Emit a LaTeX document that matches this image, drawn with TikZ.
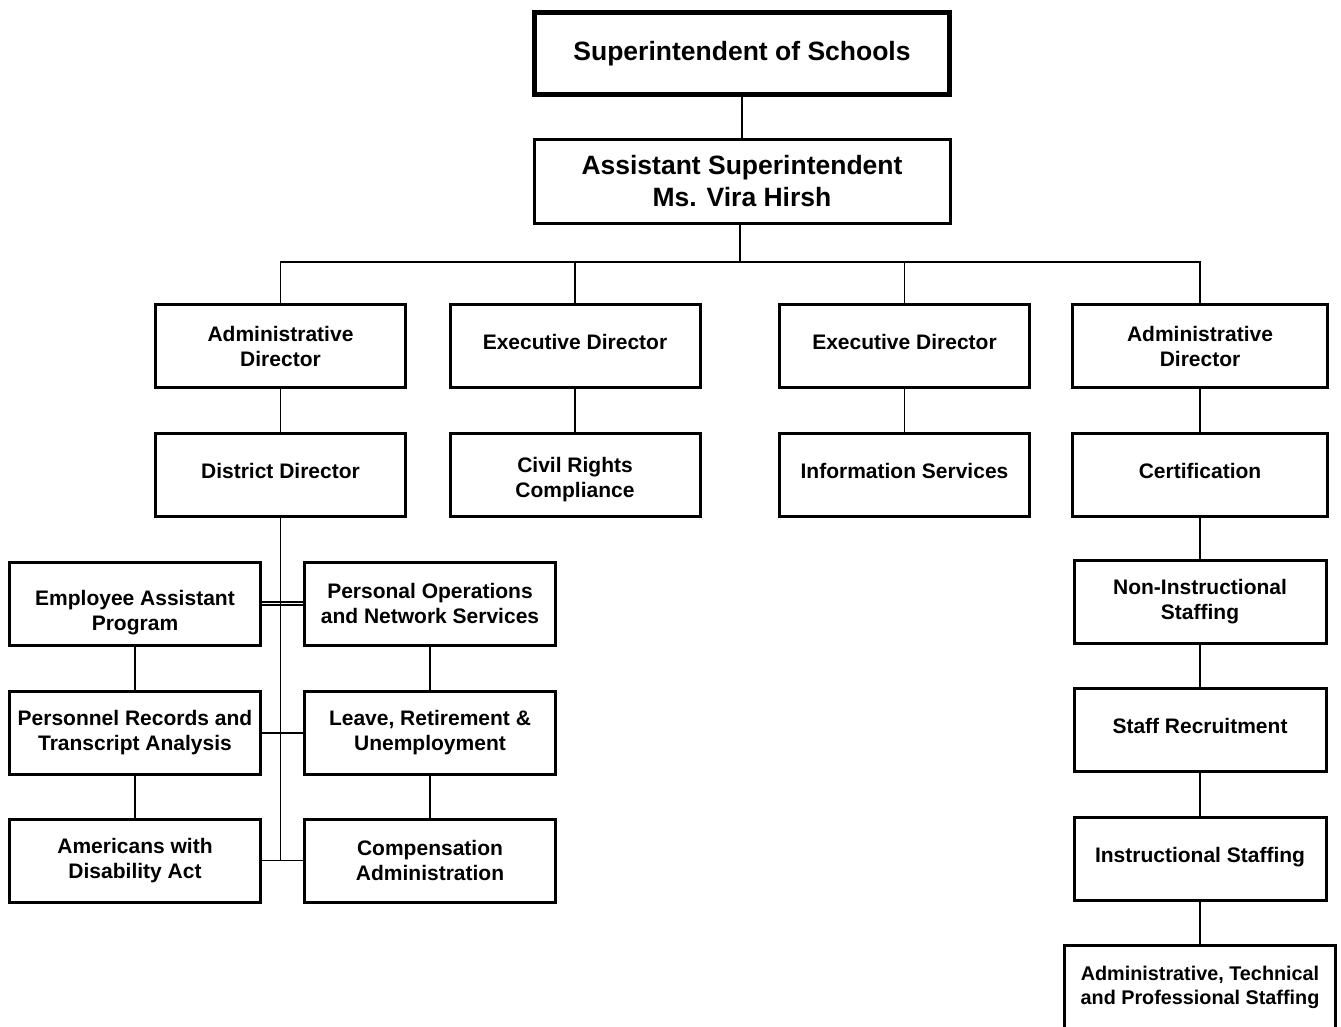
\documentclass[tikz,border=0pt]{standalone}
\usepackage{fontspec}
\setmainfont{Liberation Sans}
\newcommand{\lowstrut}{\rule[-8pt]{0pt}{8pt}}
\begin{document}
\begin{tikzpicture}[x=1pt,y=-1pt,
  box/.style={draw, line width=3pt, rectangle, align=center,
    font=\bfseries\fontsize{21}{25}\selectfont,
    minimum width=250pt, minimum height=83pt, inner sep=0pt},
  bigbox/.style={box, line width=5.5pt, font=\bfseries\fontsize{26.5}{32}\selectfont,
    minimum width=415pt, minimum height=82pt},
  conn/.style={line width=1.5pt}]
\useasboundingbox (0,0) rectangle (1341,1027);

% top levels
\node[bigbox] (super) at (742,53.5) {Superintendent of Schools};
\node[box, font=\bfseries\fontsize{26.5}{32}\selectfont, minimum width=416pt, minimum height=84pt] (asst) at (742,181.5) {Assistant Superintendent\\Ms. Vira Hirsh};

% level 2
\node[box] (ad1) at (280.5,346) {Administrative\\Director};
\node[box] (ed1) at (575,346) {Executive Director\lowstrut};
\node[box] (ed2) at (904.5,346) {Executive Director\lowstrut};
\node[box, minimum width=255pt] (ad2) at (1200,346) {Administrative\\Director};

% level 3
\node[box] (dd) at (280.5,475) {District Director\lowstrut};
\node[box] (crc) at (575,475) {\rule{0pt}{25pt}Civil Rights\\Compliance};
\node[box] (info) at (904.5,475) {Information Services\lowstrut};
\node[box, minimum width=255pt] (cert) at (1200,475) {Certification\lowstrut};

% right column
\node[box, minimum width=252pt] (nonins) at (1200,602) {Non-Instructional\\Staffing};
\node[box, minimum width=252pt] (recruit) at (1200,730) {Staff Recruitment\lowstrut};
\node[box, minimum width=252pt] (instr) at (1200,859) {Instructional Staffing\lowstrut};
\node[box, minimum width=271pt, font=\bfseries\fontsize{19.8}{24}\selectfont] (atp) at (1200,987) {Administrative, Technical\\and Professional Staffing};

% left subtree
\node[box, minimum width=251pt] (eap) at (135,603.5) {\rule{0pt}{33pt}Employee Assistant\\Program};
\node[box, minimum width=251pt] (prt) at (135,733) {Personnel Records and\\Transcript Analysis};
\node[box, minimum width=251pt] (ada) at (135,860.5) {Americans with\\Disability Act};
\node[box, minimum width=251pt] (pons) at (430,603.5) {Personal Operations\\and Network Services};
\node[box, minimum width=251pt] (lru) at (430,733) {Leave, Retirement \&\\Unemployment};
\node[box, minimum width=251pt] (comp) at (430,860.5) {Compensation\\Administration};

% connectors
\coordinate (bus) at (740,262);
\draw[conn] (super) -- (asst);
\draw[conn] (asst.south -| bus) -- (bus);
\draw[conn] (ad1.north) |- (bus) -| (ad2.north);
\draw[conn] (ed1.north) -- (ed1.north |- bus);
\draw[conn] (ed2.north) -- (ed2.north |- bus);

\draw[conn] (ad1) -- (dd);
\draw[conn] (ed1) -- (crc);
\draw[conn] (ed2) -- (info);
\draw[conn] (ad2) -- (cert);

\draw[conn] (cert) -- (nonins);
\draw[conn] (nonins) -- (recruit);
\draw[conn] (recruit) -- (instr);
\draw[conn] (instr) -- (atp);

\draw[conn] (dd.south) -- (dd.south |- ada.east);
\draw[conn] ([yshift=1.5pt]eap.east) -- ([yshift=1.5pt]pons.west);
\draw[conn] ([yshift=-1.5pt]eap.east) -- ([yshift=-1.5pt]pons.west);
\draw[conn] (prt) -- (lru);
\draw[conn] (ada) -- (comp);
\draw[conn] (eap) -- (prt);
\draw[conn] (prt) -- (ada);
\draw[conn] (pons) -- (lru);
\draw[conn] (lru) -- (comp);
\end{tikzpicture}
\end{document}
